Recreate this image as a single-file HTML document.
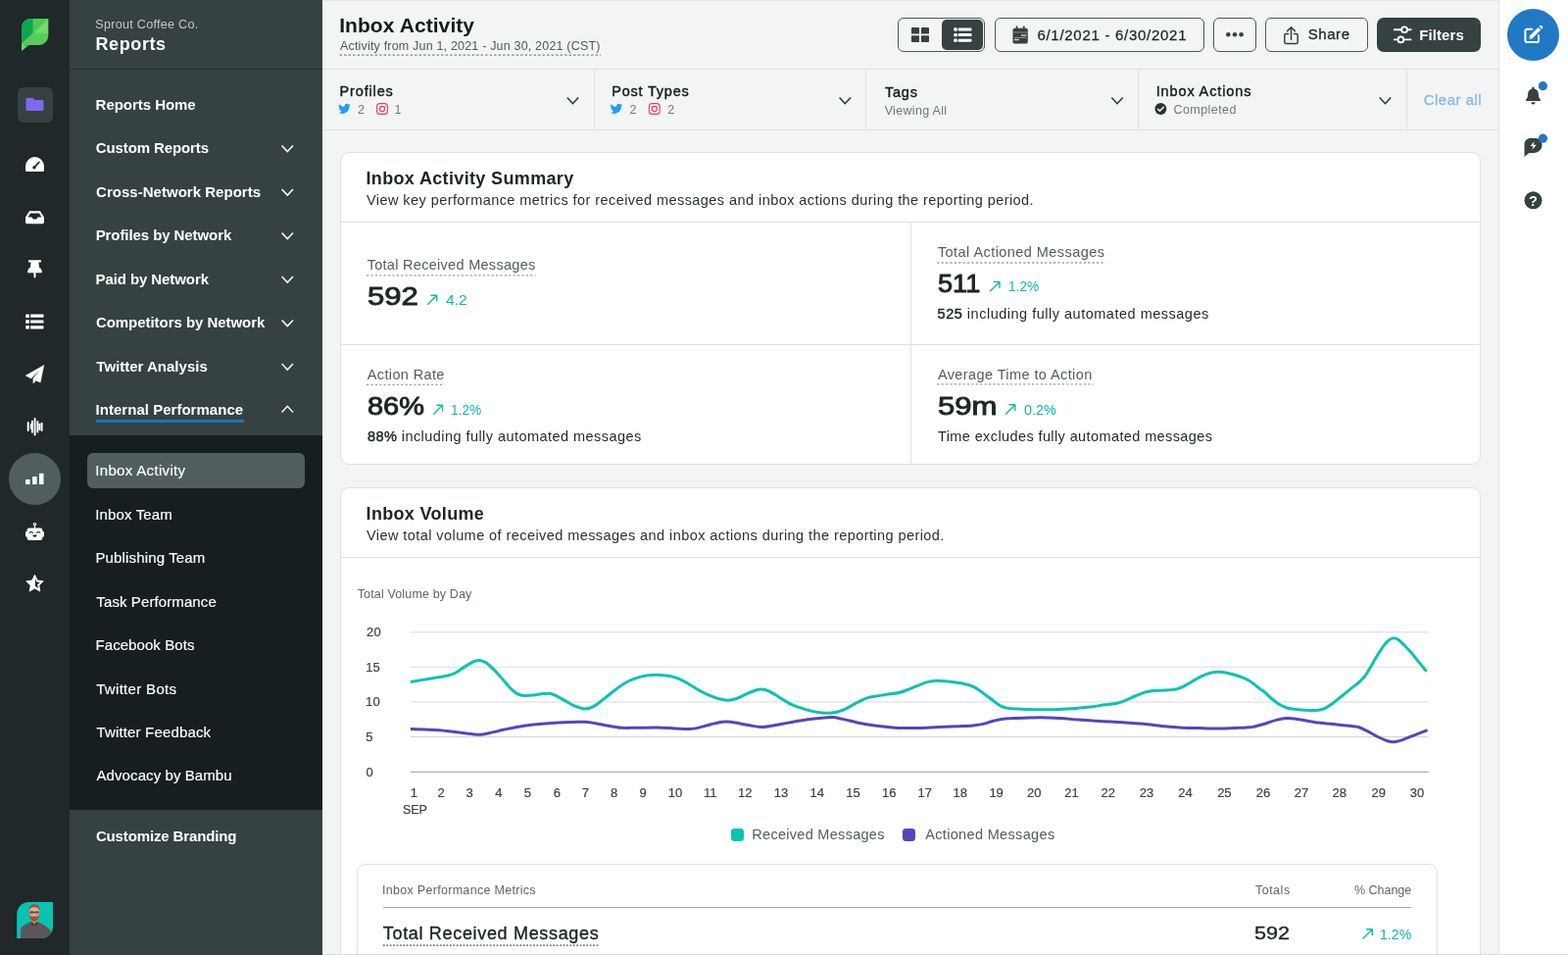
<!DOCTYPE html>
<html lang="en"><head><meta charset="utf-8"><title>Inbox Activity - Reports</title>
<style>
*{box-sizing:border-box;margin:0;padding:0}
html,body{width:1600px;height:974px;overflow:hidden;background:#f3f4f4;font-family:"Liberation Sans", sans-serif;}
.abs{position:absolute}
a.t{text-decoration:none}
svg{pointer-events:none}
.t{position:absolute;white-space:pre;line-height:1;font-family:"Liberation Sans", sans-serif}
#app{position:relative;width:1600px;height:974px;overflow:hidden;background:#f3f4f4}
.rail{left:0;top:0;width:71px;height:974px;background:#20282a}
.nav{left:71px;top:0;width:258px;height:974px;background:#364141}
.navline{left:71px;top:69.6px;width:258px;height:1.4px;background:#273031}
.subnav{left:71px;top:444.4px;width:258px;height:381.6px;background:#161e20}
.pill{left:89px;top:462.1px;width:222.3px;height:35.7px;border-radius:6px;background:#515e5f}
.uline{left:97.7px;top:428.1px;width:151.2px;height:2.8px;background:#1b76be}
.tile{left:17.5px;top:88.8px;width:36px;height:36px;border-radius:6px;background:#364141}
.circ{left:8.7px;top:461.6px;width:53.8px;height:53.8px;border-radius:50%;background:#515e5f}
.hline{background:#dee1e1;height:1.3px}
.vline{background:#dee1e1;width:1.3px}
.card{background:#fff;border:1.3px solid #dee1e1;border-radius:9px}
.btn{border:1.5px solid #4c5859;border-radius:6px;background:#f3f4f4}
.rrail{left:1528.8px;top:0;width:71.2px;height:974px;background:#fff;border-left:1.2px solid #e3e5e5}
</style></head>
<body><div id="app">
<aside aria-label="Primary navigation">
<div class="abs rail"></div>
<div class="abs tile"></div>
<div class="abs circ"></div>
</aside>
<nav aria-label="Reports">
<div class="abs nav"></div>
<div class="abs navline"></div>
<div class="abs subnav"></div>
<div class="abs pill"></div>
<div class="abs uline"></div>
<span class="t" style="left:97.23px;top:19px;font-size:12.6px;font-weight:400;color:#c3c8c8;letter-spacing:0.277px;">Sprout Coffee Co.</span>
<h2 class="t" style="left:97.50px;top:36px;font-size:18px;font-weight:700;color:#ffffff;letter-spacing:0.594px;">Reports</h2>
<a class="t" style="left:97.61px;top:99px;font-size:15px;font-weight:700;color:#ffffff;letter-spacing:-0.039px;">Reports Home</a>
<a class="t" style="left:97.85px;top:143px;font-size:15px;font-weight:700;color:#ffffff;letter-spacing:-0.114px;">Custom Reports</a>
<a class="t" style="left:98.11px;top:188px;font-size:15px;font-weight:700;color:#ffffff;letter-spacing:0.02px;">Cross-Network Reports</a>
<a class="t" style="left:97.66px;top:232px;font-size:15px;font-weight:700;color:#ffffff;letter-spacing:-0.077px;">Profiles by Network</a>
<a class="t" style="left:97.51px;top:277px;font-size:15px;font-weight:700;color:#ffffff;letter-spacing:-0.084px;">Paid by Network</a>
<a class="t" style="left:97.92px;top:321px;font-size:15px;font-weight:700;color:#ffffff;letter-spacing:-0.042px;">Competitors by Network</a>
<a class="t" style="left:98.37px;top:366px;font-size:15px;font-weight:700;color:#ffffff;letter-spacing:0.001px;">Twitter Analysis</a>
<a class="t" style="left:97.56px;top:410px;font-size:15px;font-weight:700;color:#ffffff;letter-spacing:0.027px;">Internal Performance</a>
<a class="t" style="left:97.29px;top:472px;font-size:15px;font-weight:400;color:#ffffff;letter-spacing:0.324px;-webkit-text-stroke:0.15px #ffffff;">Inbox Activity</a>
<a class="t" style="left:97.23px;top:517px;font-size:15px;font-weight:400;color:#ffffff;letter-spacing:0.15px;-webkit-text-stroke:0.15px #ffffff;">Inbox Team</a>
<a class="t" style="left:97.46px;top:561px;font-size:15px;font-weight:400;color:#ffffff;letter-spacing:0.148px;-webkit-text-stroke:0.15px #ffffff;">Publishing Team</a>
<a class="t" style="left:98.36px;top:606px;font-size:15px;font-weight:400;color:#ffffff;letter-spacing:0.101px;-webkit-text-stroke:0.15px #ffffff;">Task Performance</a>
<a class="t" style="left:97.47px;top:650px;font-size:15px;font-weight:400;color:#ffffff;letter-spacing:0.076px;-webkit-text-stroke:0.15px #ffffff;">Facebook Bots</a>
<a class="t" style="left:98.17px;top:695px;font-size:15px;font-weight:400;color:#ffffff;letter-spacing:0.323px;-webkit-text-stroke:0.15px #ffffff;">Twitter Bots</a>
<a class="t" style="left:98.38px;top:739px;font-size:15px;font-weight:400;color:#ffffff;letter-spacing:0.168px;-webkit-text-stroke:0.15px #ffffff;">Twitter Feedback</a>
<a class="t" style="left:98.52px;top:783px;font-size:15px;font-weight:400;color:#ffffff;letter-spacing:0.087px;-webkit-text-stroke:0.15px #ffffff;">Advocacy by Bambu</a>
<a class="t" style="left:97.90px;top:845px;font-size:15px;font-weight:700;color:#ffffff;letter-spacing:-0.135px;">Customize Branding</a>
</nav>
<header>
<div class="abs hline" style="left:329px;top:0;width:1200px;height:1px;background:#e4e6e6"></div>
<div class="abs hline" style="left:329px;top:69.7px;width:1200.5px"></div>
<div class="abs btn" style="left:915.9px;top:18px;width:89.3px;height:34.8px"></div>
<div class="abs" style="left:961.2px;top:20.2px;width:42.3px;height:30.8px;border-radius:5px;background:#364141"></div>
<div class="abs btn" style="left:1014.7px;top:18px;width:214px;height:34.8px"></div>
<div class="abs btn" style="left:1237.8px;top:18px;width:44.4px;height:34.8px"></div>
<div class="abs btn" style="left:1291.2px;top:18px;width:104.5px;height:34.8px"></div>
<div class="abs" style="left:1404.8px;top:18px;width:106.2px;height:34.8px;border-radius:7px;background:#364141"></div>
<h1 class="t" style="left:346.14px;top:15px;font-size:21px;font-weight:700;color:#121b1c;letter-spacing:0.077px;">Inbox Activity</h1>
<span class="t" style="left:346.98px;top:41px;font-size:12.5px;font-weight:400;color:#4f5b5c;letter-spacing:0.186px;">Activity from Jun 1, 2021 - Jun 30, 2021 (CST)</span>
<span class="t" style="left:1058.42px;top:28px;font-size:15px;font-weight:400;color:#1b2526;letter-spacing:0.719px;-webkit-text-stroke:0.25px #1b2526;">6/1/2021 - 6/30/2021</span>
<span class="t" style="left:1334.79px;top:27px;font-size:15px;font-weight:400;color:#1b2526;letter-spacing:0.545px;-webkit-text-stroke:0.3px #1b2526;">Share</span>
<span class="t" style="left:1448.32px;top:28px;font-size:15px;font-weight:700;color:#ffffff;letter-spacing:0.075px;">Filters</span>
</header>
<section aria-label="Filters">
<div class="abs hline" style="left:329px;top:132.1px;width:1200.5px"></div>
<div class="abs vline" style="left:605.6px;top:71px;height:61px"></div>
<div class="abs vline" style="left:883.2px;top:71px;height:61px"></div>
<div class="abs vline" style="left:1160.8px;top:71px;height:61px"></div>
<div class="abs vline" style="left:1434.6px;top:71px;height:61px"></div>
<span class="t" style="left:346.57px;top:86px;font-size:14.5px;font-weight:400;color:#111a1b;letter-spacing:0.848px;-webkit-text-stroke:0.38px #111a1b;">Profiles</span>
<span class="t" style="left:364.92px;top:106px;font-size:12.5px;font-weight:400;color:#6e797a;letter-spacing:0.0px;">2</span>
<span class="t" style="left:402.58px;top:106px;font-size:12.5px;font-weight:400;color:#6e797a;letter-spacing:0.0px;">1</span>
<span class="t" style="left:624.29px;top:86px;font-size:14.5px;font-weight:400;color:#111a1b;letter-spacing:0.778px;-webkit-text-stroke:0.38px #111a1b;">Post Types</span>
<span class="t" style="left:642.42px;top:106px;font-size:12.5px;font-weight:400;color:#6e797a;letter-spacing:0.0px;">2</span>
<span class="t" style="left:681.27px;top:106px;font-size:12.5px;font-weight:400;color:#6e797a;letter-spacing:0.0px;">2</span>
<span class="t" style="left:902.97px;top:87px;font-size:14.5px;font-weight:400;color:#111a1b;letter-spacing:0.772px;-webkit-text-stroke:0.38px #111a1b;">Tags</span>
<span class="t" style="left:902.63px;top:107px;font-size:12.5px;font-weight:400;color:#6e797a;letter-spacing:0.326px;">Viewing All</span>
<span class="t" style="left:1179.67px;top:86px;font-size:14.5px;font-weight:400;color:#111a1b;letter-spacing:0.877px;-webkit-text-stroke:0.38px #111a1b;">Inbox Actions</span>
<span class="t" style="left:1197.41px;top:106px;font-size:12.5px;font-weight:400;color:#6e797a;letter-spacing:0.446px;">Completed</span>
<span class="t" style="left:1452.70px;top:94px;font-size:15px;font-weight:400;color:#8ab8dc;letter-spacing:0.5px;-webkit-text-stroke:0.3px #8ab8dc;">Clear all</span>
</section>
<main>
<section aria-label="Inbox Activity Summary">
<div class="abs card" style="left:347px;top:155.2px;width:1163.8px;height:319.2px"></div>
<div class="abs hline" style="left:348px;top:225.6px;width:1162px"></div>
<div class="abs hline" style="left:348px;top:350.5px;width:1162px"></div>
<div class="abs vline" style="left:928.9px;top:226px;height:247.5px"></div>
<h2 class="t" style="left:373.45px;top:173px;font-size:18px;font-weight:700;color:#1b2526;letter-spacing:0.353px;">Inbox Activity Summary</h2>
<p class="t" style="left:373.93px;top:197px;font-size:14.5px;font-weight:400;color:#273333;letter-spacing:0.436px;">View key performance metrics for received messages and inbox actions during the reporting period.</p>
<span class="t" style="left:374.67px;top:263px;font-size:14.5px;font-weight:400;color:#515e5f;letter-spacing:0.29px;">Total Received Messages</span>
<span class="t" style="left:375.17px;top:289px;font-size:26px;font-weight:400;color:#1b2526;letter-spacing:0.0px;-webkit-text-stroke:0.9px #1b2526;transform:scaleX(1.1959);transform-origin:0 0;">592</span>
<span class="t" style="left:454.73px;top:299px;font-size:14.5px;font-weight:400;color:#0db9a7;letter-spacing:0.0px;transform:scaleX(1.0748);transform-origin:0 0;">4.2</span>
<span class="t" style="left:374.74px;top:375px;font-size:14.5px;font-weight:400;color:#515e5f;letter-spacing:0.372px;">Action Rate</span>
<span class="t" style="left:375.46px;top:401px;font-size:26px;font-weight:400;color:#1b2526;letter-spacing:0.0px;-webkit-text-stroke:0.9px #1b2526;transform:scaleX(1.1145);transform-origin:0 0;">86%</span>
<span class="t" style="left:459.63px;top:411px;font-size:14.5px;font-weight:400;color:#0db9a7;letter-spacing:0.0px;transform:scaleX(0.9475);transform-origin:0 0;">1.2%</span>
<span class="t" style="left:956.92px;top:250px;font-size:14.5px;font-weight:400;color:#515e5f;letter-spacing:0.439px;">Total Actioned Messages</span>
<span class="t" style="left:957.38px;top:276px;font-size:26px;font-weight:400;color:#1b2526;letter-spacing:0.0px;-webkit-text-stroke:0.9px #1b2526;transform:scaleX(1.0456);transform-origin:0 0;">511</span>
<span class="t" style="left:1028.54px;top:285px;font-size:14.5px;font-weight:400;color:#0db9a7;letter-spacing:0.0px;transform:scaleX(0.9411);transform-origin:0 0;">1.2%</span>
<span class="t" style="left:956.88px;top:375px;font-size:14.5px;font-weight:400;color:#515e5f;letter-spacing:0.407px;">Average Time to Action</span>
<span class="t" style="left:957.17px;top:401px;font-size:26px;font-weight:400;color:#1b2526;letter-spacing:0.0px;-webkit-text-stroke:0.9px #1b2526;transform:scaleX(1.1964);transform-origin:0 0;">59m</span>
<span class="t" style="left:1044.59px;top:411px;font-size:14.5px;font-weight:400;color:#0db9a7;letter-spacing:0.0px;transform:scaleX(0.9948);transform-origin:0 0;">0.2%</span>
<span class="t" style="left:374.92px;top:438px;font-size:14.5px;font-weight:400;color:#1f292a;letter-spacing:0.446px;"><b style="font-weight:400;-webkit-text-stroke:0.45px #1f292a">88%</b> including fully automated messages</span>
<span class="t" style="left:956.60px;top:313px;font-size:14.5px;font-weight:400;color:#1f292a;letter-spacing:0.506px;"><b style="font-weight:400;-webkit-text-stroke:0.45px #1f292a">525</b> including fully automated messages</span>
<span class="t" style="left:956.97px;top:438px;font-size:14.5px;font-weight:400;color:#1f292a;letter-spacing:0.395px;">Time excludes fully automated messages</span>
</section>
<section aria-label="Inbox Volume">
<div class="abs card" style="left:347px;top:497.4px;width:1163.8px;height:500px"></div>
<div class="abs hline" style="left:348px;top:567.5px;width:1162px"></div>
<div class="abs card" style="left:364.3px;top:880.6px;width:1102.3px;height:120px"></div>
<div class="abs hline" style="left:391px;top:925px;width:1048.6px;background:#a4abab;height:1.3px"></div>
<div class="abs" style="left:746px;top:844.7px;width:13px;height:13.2px;border-radius:3.4px;background:#0cc3b1"></div>
<div class="abs" style="left:921.3px;top:844.7px;width:13px;height:13.2px;border-radius:3.4px;background:#5a44ba"></div>
<svg class="abs" style="left:0;top:0" width="1600" height="974" viewBox="0 0 1600 974">
<rect x="418.8" y="644.1" width="1039.0" height="1.2" fill="#dfe2e2"/><rect x="418.8" y="679.7" width="1039.0" height="1.2" fill="#dfe2e2"/><rect x="418.8" y="715.3" width="1039.0" height="1.2" fill="#dfe2e2"/><rect x="418.8" y="750.9" width="1039.0" height="1.2" fill="#d2d6d6"/><rect x="418.8" y="786.7" width="1039.0" height="1.2" fill="#a4abab"/>
<path d="M418.9,743.5C418.9,743.5 431.1,743.8 437.2,744.2C443.4,744.5 449.9,744.8 455.7,745.4C460.9,745.9 465.6,746.6 470.4,747.2C475.0,747.8 480.3,748.6 484.0,748.9C486.5,749.2 488.0,749.4 490.2,749.2C492.8,749.1 495.6,748.4 498.8,747.8C503.1,746.9 508.9,745.4 513.6,744.3C517.9,743.4 521.4,742.5 525.9,741.7C531.4,740.7 538.2,739.7 544.4,739.0C550.5,738.3 556.7,737.8 562.8,737.4C569.0,737.0 576.3,736.7 581.3,736.5C584.7,736.4 587.2,736.3 590.0,736.3C592.6,736.3 594.8,736.1 597.4,736.2C600.2,736.4 602.8,736.8 606.0,737.4C610.3,738.1 616.0,739.5 620.8,740.3C625.4,741.1 629.8,742.0 634.4,742.3C639.2,742.6 643.8,742.3 649.1,742.3C655.5,742.3 663.3,741.9 670.1,742.0C676.5,742.1 682.8,742.6 688.6,742.9C693.8,743.1 698.9,743.7 703.3,743.5C706.9,743.3 709.7,742.9 713.2,742.1C717.1,741.3 721.2,739.7 725.5,738.7C730.2,737.6 735.4,736.1 740.3,736.0C745.2,735.9 750.7,737.2 755.1,737.9C758.7,738.5 761.6,739.2 765.0,739.8C768.6,740.4 772.4,741.4 776.1,741.5C779.8,741.6 783.1,740.9 787.2,740.3C792.3,739.6 798.5,738.2 804.4,737.1C810.7,736.0 817.7,734.6 824.1,733.7C830.0,732.9 836.6,732.2 841.4,731.9C844.8,731.6 847.1,731.4 850.0,731.6C852.9,731.8 855.2,732.4 858.6,733.1C863.4,734.0 870.0,736.0 875.9,737.2C881.9,738.4 888.2,739.5 894.4,740.3C900.5,741.1 907.3,741.8 912.8,742.2C917.3,742.5 920.9,742.5 925.2,742.6C929.9,742.6 934.8,742.6 940.0,742.4C945.8,742.3 952.3,741.9 958.5,741.6C964.7,741.3 971.1,741.1 977.0,740.8C982.5,740.5 988.2,740.4 993.0,739.9C997.1,739.4 1000.5,738.9 1004.1,738.1C1007.5,737.3 1010.6,736.0 1013.9,735.2C1017.2,734.4 1020.2,733.6 1023.8,733.2C1028.2,732.6 1033.0,732.6 1038.6,732.4C1045.8,732.2 1055.6,731.8 1063.2,731.8C1069.8,731.9 1075.5,732.3 1081.7,732.6C1087.9,733.0 1094.4,733.6 1100.2,734.0C1105.4,734.4 1109.8,734.7 1115.0,735.1C1120.8,735.4 1127.3,735.6 1133.5,736.0C1139.7,736.3 1145.8,736.8 1152.0,737.3C1158.1,737.7 1164.3,738.1 1170.4,738.7C1176.6,739.3 1183.1,740.2 1188.9,740.7C1194.1,741.2 1198.4,741.6 1203.7,741.9C1209.8,742.3 1217.0,742.4 1223.4,742.6C1229.4,742.8 1234.7,743.1 1240.7,743.1C1247.1,743.1 1254.1,742.8 1260.4,742.5C1266.3,742.2 1272.5,742.1 1277.6,741.4C1281.7,740.7 1284.9,739.7 1288.8,738.7C1293.1,737.5 1298.0,735.4 1302.3,734.4C1306.1,733.4 1309.5,732.6 1313.4,732.5C1317.7,732.4 1322.1,733.3 1327.0,734.0C1332.7,734.8 1339.2,736.3 1345.4,737.1C1351.5,738.0 1358.1,738.3 1363.9,738.9C1369.1,739.4 1374.6,739.9 1378.7,740.4C1381.6,740.8 1383.6,740.8 1386.1,741.5C1388.9,742.4 1391.6,743.9 1394.7,745.4C1398.5,747.2 1403.2,750.2 1407.0,752.0C1410.1,753.5 1413.1,754.9 1415.7,755.7C1417.7,756.3 1419.3,756.8 1421.2,756.8C1423.3,756.8 1425.4,756.3 1428.0,755.6C1431.5,754.7 1435.9,752.6 1440.3,750.9C1445.4,749.0 1456.6,744.6 1456.6,744.6" fill="none" stroke="#5a44ba" stroke-width="3" stroke-linejoin="round"/>
<path d="M418.9,695.4C418.9,695.4 431.1,693.4 437.2,692.4C443.4,691.4 450.7,690.6 455.7,689.3C459.1,688.5 461.4,687.9 464.3,686.5C467.6,684.9 470.8,682.1 474.1,680.1C477.4,678.1 481.1,675.5 484.0,674.5C486.0,673.7 487.7,673.4 489.5,673.5C491.4,673.7 493.1,674.3 495.1,675.4C497.8,677.0 500.8,679.9 503.7,682.7C507.0,685.9 510.3,690.0 513.6,693.6C516.9,697.2 520.6,702.0 523.4,704.4C525.2,706.0 526.4,707.0 528.3,707.8C530.3,708.7 532.6,709.2 535.1,709.4C537.9,709.6 541.3,709.2 544.4,708.9C547.6,708.6 551.2,707.8 554.2,707.6C556.7,707.4 558.9,707.0 561.0,707.3C563.0,707.6 564.5,708.3 566.5,709.1C569.1,710.3 572.2,712.3 575.2,713.9C578.4,715.7 582.2,718.1 585.0,719.4C586.9,720.3 588.1,720.7 590.0,721.3C592.2,721.9 594.9,723.1 597.4,723.0C600.2,722.9 603.1,721.8 606.0,720.3C609.6,718.5 613.3,715.0 617.1,712.1C621.1,709.0 625.2,705.3 629.4,702.4C633.4,699.5 637.5,696.6 641.7,694.5C645.7,692.6 650.2,691.1 654.1,690.1C657.5,689.2 660.6,688.9 663.9,688.6C667.2,688.3 670.5,688.3 673.8,688.4C677.1,688.6 680.4,688.8 683.6,689.5C686.9,690.2 690.3,691.2 693.5,692.6C696.8,694.0 700.0,696.1 703.3,698.0C706.6,699.9 709.9,702.1 713.2,704.0C716.4,705.8 719.7,707.5 723.0,708.9C726.3,710.3 729.6,711.6 732.9,712.5C736.2,713.4 739.6,714.2 742.8,714.2C745.8,714.1 748.4,713.4 751.4,712.5C755.1,711.3 759.5,708.7 763.1,707.2C766.0,706.0 768.7,704.6 771.2,704.0C773.3,703.4 775.2,702.9 777.3,703.1C779.7,703.2 782.1,703.9 784.7,705.0C787.8,706.3 791.3,708.8 794.6,710.8C797.9,712.8 801.1,715.1 804.4,716.8C807.6,718.5 810.8,719.9 814.3,721.2C818.1,722.6 822.7,723.9 826.6,724.9C830.1,725.7 833.2,726.4 836.5,726.8C839.8,727.2 843.1,727.5 846.3,727.3C849.3,727.2 852.1,726.8 854.9,726.0C857.8,725.2 860.7,724.0 863.6,722.6C866.8,721.1 870.1,718.8 873.4,717.1C876.7,715.4 880.1,713.5 883.3,712.3C886.2,711.3 888.8,710.9 891.9,710.3C895.6,709.5 899.9,709.1 904.2,708.4C908.9,707.7 914.8,707.2 919.0,706.0C922.3,705.2 924.6,704.0 927.6,702.8C931.1,701.4 935.2,699.6 938.8,698.3C941.8,697.1 944.6,696.0 947.4,695.4C949.9,694.8 952.2,694.5 954.8,694.3C957.8,694.2 961.1,694.4 964.6,694.7C968.5,695.0 973.1,695.5 977.0,696.2C980.5,696.7 983.8,697.4 986.8,698.2C989.5,699.0 991.6,699.6 994.2,700.9C997.4,702.5 1000.8,705.2 1004.1,707.6C1007.4,709.9 1010.8,712.8 1013.9,715.0C1016.5,716.9 1018.9,718.9 1021.3,720.1C1023.4,721.1 1025.1,721.6 1027.5,722.1C1030.6,722.8 1034.4,722.9 1038.6,723.1C1044.0,723.5 1050.9,723.7 1057.0,723.7C1063.2,723.8 1069.3,723.9 1075.5,723.7C1081.7,723.5 1088.5,723.1 1094.0,722.7C1098.5,722.4 1102.6,722.0 1106.3,721.6C1109.5,721.3 1111.9,721.1 1115.0,720.7C1118.8,720.2 1123.2,719.4 1127.3,718.8C1131.4,718.3 1135.9,718.0 1139.6,717.2C1142.8,716.5 1145.3,715.5 1148.3,714.4C1151.5,713.2 1154.8,711.4 1158.1,710.0C1161.4,708.7 1164.8,707.0 1168.0,706.1C1170.9,705.3 1173.5,704.9 1176.6,704.5C1180.3,704.1 1184.8,704.3 1188.9,704.0C1193.0,703.7 1197.7,703.4 1201.2,702.6C1204.0,701.8 1205.9,700.9 1208.6,699.6C1212.0,698.0 1216.0,695.1 1219.7,693.1C1223.4,691.1 1227.0,689.0 1230.8,687.7C1234.4,686.4 1238.2,685.5 1241.9,685.3C1245.6,685.1 1249.2,685.7 1253.0,686.4C1257.0,687.2 1261.5,688.6 1265.3,690.0C1268.8,691.3 1272.0,692.6 1275.2,694.5C1278.6,696.6 1282.3,700.1 1285.0,702.1C1286.9,703.5 1288.2,704.1 1290.0,705.5C1292.3,707.4 1294.9,710.4 1297.4,712.5C1299.8,714.5 1302.2,716.4 1304.8,718.0C1307.5,719.6 1310.3,721.1 1313.4,722.0C1316.8,723.0 1320.7,723.3 1324.5,723.7C1328.5,724.1 1333.1,724.4 1336.8,724.4C1339.9,724.5 1342.8,724.5 1345.4,724.2C1347.7,723.8 1349.5,723.5 1351.6,722.6C1354.0,721.5 1356.4,719.9 1359.0,718.1C1362.1,715.9 1365.5,712.8 1368.8,710.2C1372.1,707.6 1375.5,704.8 1378.7,702.2C1381.7,699.8 1384.9,697.5 1387.3,695.3C1389.3,693.5 1390.7,692.3 1392.3,690.2C1394.4,687.6 1396.3,684.1 1398.4,680.6C1400.8,676.7 1403.3,671.9 1405.8,667.9C1408.2,664.0 1410.8,659.7 1413.2,656.9C1414.9,654.9 1416.4,653.4 1418.1,652.3C1419.5,651.5 1421.0,650.8 1422.4,650.8C1423.8,650.8 1425.2,651.5 1426.7,652.4C1428.7,653.6 1430.8,655.9 1432.9,658.0C1435.3,660.4 1437.9,663.2 1440.3,666.0C1442.8,668.9 1445.2,672.0 1447.7,675.1C1450.3,678.2 1455.6,684.7 1455.6,684.7" fill="none" stroke="#0cc3b1" stroke-width="3" stroke-linejoin="round"/>
</svg>
<h2 class="t" style="left:373.59px;top:515px;font-size:18px;font-weight:700;color:#1b2526;letter-spacing:0.325px;">Inbox Volume</h2>
<p class="t" style="left:373.99px;top:539px;font-size:14.5px;font-weight:400;color:#273333;letter-spacing:0.427px;">View total volume of received messages and inbox actions during the reporting period.</p>
<span class="t" style="left:364.71px;top:600px;font-size:12.5px;font-weight:400;color:#5c6869;letter-spacing:0.147px;">Total Volume by Day</span>
<span class="t" style="left:374.06px;top:638px;font-size:13px;font-weight:400;color:#3a4546;letter-spacing:0.2px;-webkit-text-stroke:0.2px #3a4546;">20</span>
<span class="t" style="left:373.20px;top:674px;font-size:13px;font-weight:400;color:#3a4546;letter-spacing:0.2px;-webkit-text-stroke:0.2px #3a4546;">15</span>
<span class="t" style="left:373.10px;top:709px;font-size:13px;font-weight:400;color:#3a4546;letter-spacing:0.2px;-webkit-text-stroke:0.2px #3a4546;">10</span>
<span class="t" style="left:373.20px;top:745px;font-size:13px;font-weight:400;color:#3a4546;letter-spacing:0.2px;-webkit-text-stroke:0.2px #3a4546;">5</span>
<span class="t" style="left:373.59px;top:781px;font-size:13px;font-weight:400;color:#3a4546;letter-spacing:0.2px;-webkit-text-stroke:0.2px #3a4546;">0</span>
<span class="t" style="left:418.81px;top:802px;font-size:13px;font-weight:400;color:#3a4546;letter-spacing:0.0px;-webkit-text-stroke:0.2px #3a4546;">1</span>
<span class="t" style="left:446.38px;top:802px;font-size:13px;font-weight:400;color:#3a4546;letter-spacing:0.0px;-webkit-text-stroke:0.2px #3a4546;">2</span>
<span class="t" style="left:475.53px;top:802px;font-size:13px;font-weight:400;color:#3a4546;letter-spacing:0.0px;-webkit-text-stroke:0.2px #3a4546;">3</span>
<span class="t" style="left:505.33px;top:802px;font-size:13px;font-weight:400;color:#3a4546;letter-spacing:0.0px;-webkit-text-stroke:0.2px #3a4546;">4</span>
<span class="t" style="left:534.80px;top:802px;font-size:13px;font-weight:400;color:#3a4546;letter-spacing:0.0px;-webkit-text-stroke:0.2px #3a4546;">5</span>
<span class="t" style="left:564.87px;top:802px;font-size:13px;font-weight:400;color:#3a4546;letter-spacing:0.0px;-webkit-text-stroke:0.2px #3a4546;">6</span>
<span class="t" style="left:593.68px;top:802px;font-size:13px;font-weight:400;color:#3a4546;letter-spacing:0.0px;-webkit-text-stroke:0.2px #3a4546;">7</span>
<span class="t" style="left:622.99px;top:802px;font-size:13px;font-weight:400;color:#3a4546;letter-spacing:0.0px;-webkit-text-stroke:0.2px #3a4546;">8</span>
<span class="t" style="left:652.58px;top:802px;font-size:13px;font-weight:400;color:#3a4546;letter-spacing:0.0px;-webkit-text-stroke:0.2px #3a4546;">9</span>
<span class="t" style="left:681.74px;top:802px;font-size:13px;font-weight:400;color:#3a4546;letter-spacing:0.0px;-webkit-text-stroke:0.2px #3a4546;">10</span>
<span class="t" style="left:717.89px;top:802px;font-size:13px;font-weight:400;color:#3a4546;letter-spacing:0.0px;-webkit-text-stroke:0.2px #3a4546;">11</span>
<span class="t" style="left:753.00px;top:802px;font-size:13px;font-weight:400;color:#3a4546;letter-spacing:0.0px;-webkit-text-stroke:0.2px #3a4546;">12</span>
<span class="t" style="left:789.78px;top:802px;font-size:13px;font-weight:400;color:#3a4546;letter-spacing:0.0px;-webkit-text-stroke:0.2px #3a4546;">13</span>
<span class="t" style="left:826.50px;top:802px;font-size:13px;font-weight:400;color:#3a4546;letter-spacing:0.0px;-webkit-text-stroke:0.2px #3a4546;">14</span>
<span class="t" style="left:863.28px;top:802px;font-size:13px;font-weight:400;color:#3a4546;letter-spacing:0.0px;-webkit-text-stroke:0.2px #3a4546;">15</span>
<span class="t" style="left:900.00px;top:802px;font-size:13px;font-weight:400;color:#3a4546;letter-spacing:0.0px;-webkit-text-stroke:0.2px #3a4546;">16</span>
<span class="t" style="left:936.60px;top:802px;font-size:13px;font-weight:400;color:#3a4546;letter-spacing:0.0px;-webkit-text-stroke:0.2px #3a4546;">17</span>
<span class="t" style="left:972.47px;top:802px;font-size:13px;font-weight:400;color:#3a4546;letter-spacing:0.0px;-webkit-text-stroke:0.2px #3a4546;">18</span>
<span class="t" style="left:1009.40px;top:802px;font-size:13px;font-weight:400;color:#3a4546;letter-spacing:0.0px;-webkit-text-stroke:0.2px #3a4546;">19</span>
<span class="t" style="left:1048.00px;top:802px;font-size:13px;font-weight:400;color:#3a4546;letter-spacing:0.0px;-webkit-text-stroke:0.2px #3a4546;">20</span>
<span class="t" style="left:1086.25px;top:802px;font-size:13px;font-weight:400;color:#3a4546;letter-spacing:0.0px;-webkit-text-stroke:0.2px #3a4546;">21</span>
<span class="t" style="left:1123.56px;top:802px;font-size:13px;font-weight:400;color:#3a4546;letter-spacing:0.0px;-webkit-text-stroke:0.2px #3a4546;">22</span>
<span class="t" style="left:1162.85px;top:802px;font-size:13px;font-weight:400;color:#3a4546;letter-spacing:0.0px;-webkit-text-stroke:0.2px #3a4546;">23</span>
<span class="t" style="left:1202.36px;top:802px;font-size:13px;font-weight:400;color:#3a4546;letter-spacing:0.0px;-webkit-text-stroke:0.2px #3a4546;">24</span>
<span class="t" style="left:1242.15px;top:802px;font-size:13px;font-weight:400;color:#3a4546;letter-spacing:0.0px;-webkit-text-stroke:0.2px #3a4546;">25</span>
<span class="t" style="left:1281.76px;top:802px;font-size:13px;font-weight:400;color:#3a4546;letter-spacing:0.0px;-webkit-text-stroke:0.2px #3a4546;">26</span>
<span class="t" style="left:1320.66px;top:802px;font-size:13px;font-weight:400;color:#3a4546;letter-spacing:0.0px;-webkit-text-stroke:0.2px #3a4546;">27</span>
<span class="t" style="left:1359.54px;top:802px;font-size:13px;font-weight:400;color:#3a4546;letter-spacing:0.0px;-webkit-text-stroke:0.2px #3a4546;">28</span>
<span class="t" style="left:1399.56px;top:802px;font-size:13px;font-weight:400;color:#3a4546;letter-spacing:0.0px;-webkit-text-stroke:0.2px #3a4546;">29</span>
<span class="t" style="left:1438.76px;top:802px;font-size:13px;font-weight:400;color:#3a4546;letter-spacing:0.0px;-webkit-text-stroke:0.2px #3a4546;">30</span>
<span class="t" style="left:411.00px;top:820px;font-size:12.5px;font-weight:400;color:#3a4546;letter-spacing:-0.067px;-webkit-text-stroke:0.2px #3a4546;">SEP</span>
<span class="t" style="left:767.32px;top:844px;font-size:14.5px;font-weight:400;color:#515e5f;letter-spacing:0.287px;">Received Messages</span>
<span class="t" style="left:944.16px;top:844px;font-size:14.5px;font-weight:400;color:#515e5f;letter-spacing:0.34px;">Actioned Messages</span>
<span class="t" style="left:389.99px;top:902px;font-size:12.5px;font-weight:400;color:#5c6869;letter-spacing:0.299px;">Inbox Performance Metrics</span>
<span class="t" style="left:1280.90px;top:902px;font-size:12.5px;font-weight:400;color:#5c6869;letter-spacing:0.518px;">Totals</span>
<span class="t" style="left:1381.95px;top:902px;font-size:12.5px;font-weight:400;color:#5c6869;letter-spacing:-0.016px;">% Change</span>
<span class="t" style="left:390.80px;top:943px;font-size:18px;font-weight:400;color:#1b2526;letter-spacing:0.674px;-webkit-text-stroke:0.35px #1b2526;">Total Received Messages</span>
<span class="t" style="left:1280.20px;top:943px;font-size:18px;font-weight:400;color:#1b2526;letter-spacing:0.0px;-webkit-text-stroke:0.35px #1b2526;transform:scaleX(1.2);transform-origin:0 0;">592</span>
<span class="t" style="left:1408.00px;top:945px;font-size:15.5px;font-weight:400;color:#0db9a7;letter-spacing:0.0px;transform:scaleX(0.911);transform-origin:0 0;">1.2%</span>
</section>
</main>
<aside aria-label="Utilities">
<div class="abs rrail"></div>
<div class="abs" style="left:1537.8px;top:8.7px;width:53.4px;height:53.4px;border-radius:50%;background:#2079c3"></div>
</aside>
<div class="abs hline" style="left:329px;top:973px;width:1271px;height:1px;background:#d9dcdc"></div>
<svg class="abs" style="left:0;top:0" width="1600" height="974" viewBox="0 0 1600 974"><polyline points="287.6,148.45 293.3,154.55 299.0,148.45" fill="none" stroke="#fff" stroke-width="1.5"/><polyline points="287.6,192.95 293.3,199.05 299.0,192.95" fill="none" stroke="#fff" stroke-width="1.5"/><polyline points="287.6,237.45 293.3,243.55 299.0,237.45" fill="none" stroke="#fff" stroke-width="1.5"/><polyline points="287.6,281.95 293.3,288.05 299.0,281.95" fill="none" stroke="#fff" stroke-width="1.5"/><polyline points="287.6,326.45 293.3,332.55 299.0,326.45" fill="none" stroke="#fff" stroke-width="1.5"/><polyline points="287.6,370.95 293.3,377.05 299.0,370.95" fill="none" stroke="#fff" stroke-width="1.5"/><polyline points="287.6,420.45 293.3,414.34999999999997 299.0,420.45" fill="none" stroke="#fff" stroke-width="1.5"/><polyline points="578.8,99.55 584.5,105.64999999999999 590.2,99.55" fill="none" stroke="#273333" stroke-width="1.5"/><polyline points="856.5999999999999,99.55 862.3,105.64999999999999 868.0,99.55" fill="none" stroke="#273333" stroke-width="1.5"/><polyline points="1134.3,99.55 1140,105.64999999999999 1145.7,99.55" fill="none" stroke="#273333" stroke-width="1.5"/><polyline points="1407.8,99.55 1413.5,105.64999999999999 1419.2,99.55" fill="none" stroke="#273333" stroke-width="1.5"/><path d="M436.70,310.30 L445.70,301.30 M439.95,301.30 H445.70 V307.05" fill="none" stroke="#0fbcaa" stroke-width="1.4" stroke-linecap="round" stroke-linejoin="round"/><path d="M442.60,422.20 L451.60,413.20 M445.85,413.20 H451.60 V418.95" fill="none" stroke="#0fbcaa" stroke-width="1.4" stroke-linecap="round" stroke-linejoin="round"/><path d="M1010.60,296.80 L1020.00,287.40 M1014.00,287.40 H1020.00 V293.40" fill="none" stroke="#0fbcaa" stroke-width="1.4" stroke-linecap="round" stroke-linejoin="round"/><path d="M1026.60,422.00 L1035.80,412.80 M1029.93,412.80 H1035.80 V418.67" fill="none" stroke="#0fbcaa" stroke-width="1.4" stroke-linecap="round" stroke-linejoin="round"/><path d="M1391.00,957.10 L1400.30,947.80 M1394.37,947.80 H1400.30 V953.73" fill="none" stroke="#0fbcaa" stroke-width="1.4" stroke-linecap="round" stroke-linejoin="round"/><line x1="346.6" y1="56.2" x2="613" y2="56.2" stroke="#7d8687" stroke-width="1.3" stroke-dasharray="2.4 2.1"/><line x1="374" y1="280.9" x2="546.5" y2="280.9" stroke="#99a1a2" stroke-width="1.3" stroke-dasharray="2.2 2.2"/><line x1="374" y1="392.3" x2="453.5" y2="392.3" stroke="#99a1a2" stroke-width="1.3" stroke-dasharray="2.2 2.2"/><line x1="956.2" y1="268.0" x2="1128" y2="268.0" stroke="#99a1a2" stroke-width="1.3" stroke-dasharray="2.2 2.2"/><line x1="956.2" y1="391.9" x2="1115.5" y2="391.9" stroke="#99a1a2" stroke-width="1.3" stroke-dasharray="2.2 2.2"/><line x1="391" y1="964.2" x2="611" y2="964.2" stroke="#3c4748" stroke-width="1.2" stroke-dasharray="1.7 1.7"/></svg>
<svg class="abs" style="left:0;top:0" width="1600" height="974" viewBox="0 0 1600 974">
<defs>
<clipPath id="leafclip"><path d="M31.6,19H49.25V36.2C49.25,41.6 45.2,45.9 39.8,45.9H29.6L22.1,52V28.8C22.1,23.2 26,19 31.6,19Z"/></clipPath>
<clipPath id="avclip"><path d="M29.5,920H54V945C54,951.6 48.6,957 42,957H17.2V932.3C17.2,925.5 22.7,920 29.5,920Z"/></clipPath>
<filter id="soft" x="-10%" y="-10%" width="120%" height="120%"><feGaussianBlur stdDeviation="0.35"/></filter>
</defs>
<!-- logo -->
<g clip-path="url(#leafclip)">
<rect x="20" y="16" width="32" height="38" fill="#59cb59"/>
<polygon points="20,16 33.8,16 33.8,33.4 22,44.4 20,44.4" fill="#0ca750"/>
<polygon points="49.6,18.4 49.6,34 35,33.6" fill="#75dd66"/>
<polygon points="33.8,18 49.6,18.4 33.8,33.4" fill="#52c658"/>
<polygon points="22,44.4 28,46.3 22,52.2" fill="#6bd862"/>
<polygon points="24.6,45.4 29.8,45.9 27,48.1" fill="#1fb156"/>
</g>
<!-- folder -->
<path d="M28,99.8h5.2l2.2,2.2h7.5a1.6,1.6 0 0 1 1.6,1.6v7.9a1.6,1.6 0 0 1 -1.6,1.6h-14.9a1.6,1.6 0 0 1 -1.6,-1.6v-10.1a1.6,1.6 0 0 1 1.6,-1.6z" fill="#8069eb"/>
<!-- gauge -->
<path d="M26,169.6a9.5,9.5 0 0 1 19,0v3.9a1.6,1.6 0 0 1 -1.6,1.6h-15.8a1.6,1.6 0 0 1 -1.6,-1.6z" fill="#fff"/>
<path d="M35,170.8 L39.9,165.4" stroke="#20282a" stroke-width="1.7" stroke-linecap="round" fill="none"/>
<circle cx="35" cy="170.8" r="1.7" fill="#20282a"/>
<!-- inbox tray -->
<path d="M30,215.2h11l4,6.2v5.2a1.6,1.6 0 0 1 -1.6,1.6h-15.8a1.6,1.6 0 0 1 -1.6,-1.6v-5.2z" fill="#fff"/>
<path d="M31,217.6h9l2.4,3.8h-4l-1.1,2h-3.6l-1.1,-2h-4z" fill="#20282a"/>
<!-- pin -->
<path d="M30,265.2h11a0.9,0.9 0 0 1 0,2.4h-1.6l0.7,5.2c1.6,0.9 2.7,2.5 2.7,4.6a0.9,0.9 0 0 1 -0.9,0.9h-5.4v3.9l-1,1.8l-1,-1.8v-3.9h-5.4a0.9,0.9 0 0 1 -0.9,-0.9c0,-2.1 1.1,-3.7 2.7,-4.6l0.7,-5.2h-1.6a0.9,0.9 0 0 1 0,-2.4z" fill="#fff"/>
<!-- list -->
<g fill="#fff">
<rect x="26.2" y="320.4" width="3.7" height="3.6" rx="0.6"/><rect x="31" y="320.6" width="13.5" height="3.2" rx="0.6"/>
<rect x="26.2" y="326.2" width="3.7" height="3.6" rx="0.6"/><rect x="31" y="326.4" width="13.5" height="3.2" rx="0.6"/>
<rect x="26.2" y="332" width="3.7" height="3.6" rx="0.6"/><rect x="31" y="332.2" width="13.5" height="3.2" rx="0.6"/>
</g>
<!-- paper plane -->
<path d="M44.8,372.5L26.2,383.1L31.6,385.9L41.9,376L33.9,385.9V391L36.7,388.2L41.2,390.1Z" fill="#fff" stroke="#fff" stroke-width="0.5" stroke-linejoin="round"/>
<!-- waveform -->
<g stroke="#fff" stroke-width="1.9" stroke-linecap="round" fill="none">
<path d="M28.7,431v8"/><path d="M31.8,433v4"/><path d="M35.6,427v16.6"/><path d="M32.9,429.8v11"/><path d="M38.4,430v10.6"/><path d="M40.4,432.6v5.4"/><path d="M42.6,431.6v7.4"/>
</g>
<!-- bar chart -->
<g fill="#fff">
<rect x="26.1" y="489" width="4.5" height="5.1" rx="0.5"/><rect x="33.1" y="486" width="4.5" height="8.1" rx="0.5"/><rect x="40" y="482.8" width="4.5" height="11.3" rx="0.5"/>
</g>
<!-- robot -->
<g fill="#fff">
<rect x="27.6" y="538.4" width="15.8" height="12.6" rx="2.2"/>
<rect x="26" y="542" width="2.4" height="5.6" rx="0.8"/><rect x="42.6" y="542" width="2.4" height="5.6" rx="0.8"/>
<rect x="34.9" y="535.5" width="1.2" height="3.4"/>
<circle cx="35.5" cy="534.6" r="1.7"/>
</g>
<circle cx="35.5" cy="534.6" r="0.6" fill="#20282a"/>
<g stroke="#20282a" stroke-width="1.1" fill="none" stroke-linecap="round">
<path d="M30.2,543.4q1.6,-1.9 3.2,0"/><path d="M37.6,543.4q1.6,-1.9 3.2,0"/>
</g>
<path d="M33.3,545.6h4.4a2.2,2.2 0 0 1 -4.4,0z" fill="#20282a"/>
<!-- star half -->
<path d="M35.5,586.4l2.6,5.6l6.1,0.8l-4.5,4.2l1.1,6l-5.3,-3l-5.3,3l1.1,-6l-4.5,-4.2l6.1,-0.8z" fill="#fff" stroke="#fff" stroke-width="1" stroke-linejoin="round"/>
<path d="M35.9,590.3l1.5,3.1l3.4,0.5l-2.6,2.4l0.7,3.5l-3,-1.7z" fill="#20282a"/>
<!-- avatar -->
<g clip-path="url(#avclip)">
<rect x="16" y="919" width="40" height="40" fill="#0ac2b0"/>
<g filter="url(#soft)">
<path d="M21,958v-8.5c0.5,-4.6 4.4,-7 8.6,-8.4l5.4,-2l5.2,2c4.2,1.8 9.4,4.8 12.8,10v7z" fill="#5b575b"/>
<path d="M31.8,939l3.3,3.6l3.6,-3.8l-0.6,-3.2h-5.8z" fill="#c4826c"/>
<path d="M31.2,940.2l3.8,2.6l-2.2,2.2z M38.9,940l-3.7,2.8l2.4,2.2z" fill="#3f3c40"/>
<ellipse cx="35" cy="930.6" rx="5.5" ry="7.2" fill="#e3ab96"/>
<path d="M29.5,929.4c-0.3,-4.6 2,-7.2 5.5,-7.2c3.5,0 5.8,2.6 5.5,7.2c-0.7,-2.6 -2.5,-4.2 -5.5,-4.2c-3,0 -4.8,1.6 -5.5,4.2z" fill="#8a5a44"/>
<path d="M29.6,931.6c0.3,5 2.6,8.2 5.4,8.2c2.8,0 5.1,-3.2 5.4,-8.2c-0.9,2.6 -2.2,3.4 -3.2,3.2c-1.4,-0.5 -3,-0.5 -4.4,0c-1,0.2 -2.3,-0.6 -3.2,-3.2z" fill="#9a5438"/>
<path d="M30,930.4h10" stroke="#43322d" stroke-width="0.8" fill="none"/>
<rect x="30.6" y="929.6" width="3.6" height="2.3" rx="0.9" fill="none" stroke="#43322d" stroke-width="0.6"/>
<rect x="35.8" y="929.6" width="3.6" height="2.3" rx="0.9" fill="none" stroke="#43322d" stroke-width="0.6"/>
</g>
</g>
<!-- grid icon -->
<g fill="#364141">
<rect x="930" y="28" width="8" height="6.6" rx="0.7"/><rect x="940" y="28" width="8" height="6.6" rx="0.7"/>
<rect x="930" y="36.3" width="8" height="6.7" rx="0.7"/><rect x="940" y="36.3" width="8" height="6.7" rx="0.7"/>
</g>
<!-- list icon white -->
<g fill="#fff">
<circle cx="975" cy="30" r="1.9"/><rect x="977.6" y="28.5" width="14" height="3" rx="1.2"/>
<circle cx="975" cy="35.6" r="1.9"/><rect x="977.6" y="34.1" width="14" height="3" rx="1.2"/>
<circle cx="975" cy="41.2" r="1.9"/><rect x="977.6" y="39.7" width="14" height="3" rx="1.2"/>
</g>
<!-- calendar -->
<g fill="#364141">
<rect x="1033.5" y="28.8" width="15.3" height="15.8" rx="1.8"/>
<rect x="1036.7" y="26.6" width="1.7" height="3.4" rx="0.6"/><rect x="1043.9" y="26.6" width="1.7" height="3.4" rx="0.6"/>
</g>
<g fill="#e6e9e9">
<rect x="1033.5" y="32.6" width="15.3" height="0.8" opacity="0.55"/>
<rect x="1042" y="35.4" width="5.4" height="1.3" opacity="0.9"/>
<rect x="1035" y="37.9" width="12.4" height="0.9" opacity="0.6"/>
<rect x="1035" y="39.9" width="4.8" height="1.3" opacity="0.95"/>
</g>
<!-- dots -->
<g fill="#364141"><circle cx="1253.3" cy="35.2" r="2.3"/><circle cx="1260" cy="35.2" r="2.3"/><circle cx="1266.6" cy="35.2" r="2.3"/></g>
<!-- share -->
<g stroke="#364141" stroke-width="1.5" fill="none" stroke-linecap="round" stroke-linejoin="round">
<path d="M1314.6,34.6h-2.4a1.4,1.4 0 0 0 -1.4,1.4v7a1.4,1.4 0 0 0 1.4,1.4h10.6a1.4,1.4 0 0 0 1.4,-1.4v-7a1.4,1.4 0 0 0 -1.4,-1.4h-2.4"/>
<path d="M1317.5,40.4v-12.6M1313.6,31.6l3.9,-3.9l3.9,3.9"/>
</g>
<!-- sliders -->
<g stroke="#fff" stroke-width="1.9" fill="none" stroke-linecap="round">
<path d="M1422.8,30.3h7M1436.6,30.3h3"/><circle cx="1433.1" cy="30.3" r="2.9"/>
<path d="M1422.8,40.4h3.2M1433,40.4h6.6"/><circle cx="1429.4" cy="40.4" r="2.9"/>
</g>
<!-- compose -->
<g stroke="#fff" fill="none" stroke-linecap="round" stroke-linejoin="round">
<path d="M1563.4,29.7h-5.2a1.8,1.8 0 0 0 -1.8,1.8v9.8a1.8,1.8 0 0 0 1.8,1.8h10a1.8,1.8 0 0 0 1.8,-1.8v-5.4" stroke-width="2"/>
</g>
<path d="M1560.4,39.8l0.6,-3.2l8.6,-8.6l2.6,2.6l-8.6,8.6z" fill="#fff"/>
<path d="M1570.5,27.1l1,-1a1,1 0 0 1 1.4,0l1.2,1.2a1,1 0 0 1 0,1.4l-1,1z" fill="#fff"/>
<!-- bell -->
<path d="M1564.5,88.8c0.7,0 1.2,0.5 1.2,1.1v0.5c2.6,0.6 4.2,2.8 4.2,5.4c0,3.2 0.8,4.6 1.9,5.7c0.5,0.5 0.5,1.5 -0.6,1.5h-13.4c-1.1,0 -1.1,-1 -0.6,-1.5c1.1,-1.1 1.9,-2.5 1.9,-5.7c0,-2.6 1.6,-4.8 4.2,-5.4v-0.5c0,-0.6 0.5,-1.1 1.2,-1.1z" fill="#364141"/>
<path d="M1562.3,104.3h4.4a2.2,2.2 0 0 1 -4.4,0z" fill="#364141"/>
<circle cx="1574.4" cy="87.7" r="4.6" fill="#2079c3"/>
<!-- message bolt -->
<path d="M1561.6,141h5.4c3.6,0 6.5,2.9 6.5,6.5c0,4.6 -3.6,8.4 -8.2,8.4h-5l-4.8,4.2v-13c0,-3.4 2.7,-6.1 6.1,-6.1z" fill="#364141"/>
<path d="M1565.6,144.2l-4.2,4.9h3l-1,3.6l4.4,-4.9h-3.1z" fill="#fff"/>
<circle cx="1574.4" cy="141.2" r="4.6" fill="#2079c3"/>
<!-- help -->
<circle cx="1564.5" cy="204.3" r="9" fill="#364141"/>
<text x="1564.5" y="209.6" text-anchor="middle" font-family="Liberation Sans, sans-serif" font-weight="700" font-size="14.5" fill="#fff">?</text>
<!-- twitter / instagram -->
<path fill="#1da1f2" transform="translate(345.2,104.7) scale(0.52)" d="M23.953 4.57a10 10 0 01-2.825.775 4.958 4.958 0 002.163-2.723c-.951.555-2.005.959-3.127 1.184a4.92 4.92 0 00-8.384 4.482C7.69 8.095 4.067 6.13 1.64 3.162a4.822 4.822 0 00-.666 2.475c0 1.71.87 3.213 2.188 4.096a4.904 4.904 0 01-2.228-.616v.06a4.923 4.923 0 003.946 4.827 4.996 4.996 0 01-2.212.085 4.936 4.936 0 004.604 3.417 9.867 9.867 0 01-6.102 2.105c-.39 0-.779-.023-1.17-.067a13.995 13.995 0 007.557 2.209c9.053 0 13.998-7.496 13.998-13.985 0-.21 0-.42-.015-.63A9.935 9.935 0 0024 4.59z"/>
<path fill="#1da1f2" transform="translate(622.7,104.7) scale(0.52)" d="M23.953 4.57a10 10 0 01-2.825.775 4.958 4.958 0 002.163-2.723c-.951.555-2.005.959-3.127 1.184a4.92 4.92 0 00-8.384 4.482C7.69 8.095 4.067 6.13 1.64 3.162a4.822 4.822 0 00-.666 2.475c0 1.71.87 3.213 2.188 4.096a4.904 4.904 0 01-2.228-.616v.06a4.923 4.923 0 003.946 4.827 4.996 4.996 0 01-2.212.085 4.936 4.936 0 004.604 3.417 9.867 9.867 0 01-6.102 2.105c-.39 0-.779-.023-1.17-.067a13.995 13.995 0 007.557 2.209c9.053 0 13.998-7.496 13.998-13.985 0-.21 0-.42-.015-.63A9.935 9.935 0 0024 4.59z"/>
<g stroke="#e4405f" fill="none" stroke-width="1.1"><rect x="384.6" y="105.6" width="10.8" height="10.8" rx="3"/><circle cx="390" cy="111" r="2.6"/><circle cx="393.1" cy="107.9" r="0.5" fill="#e4405f" stroke="none"/></g>
<g stroke="#e4405f" fill="none" stroke-width="1.1"><rect x="662.4" y="105.6" width="10.8" height="10.8" rx="3"/><circle cx="667.8" cy="111" r="2.6"/><circle cx="670.9" cy="107.9" r="0.5" fill="#e4405f" stroke="none"/></g>
<!-- check circle -->
<circle cx="1184.4" cy="111" r="5.95" fill="#273333"/>
<path d="M1181.5,111.2l2,2l3.8,-3.9" stroke="#fff" stroke-width="1.5" fill="none" stroke-linecap="round" stroke-linejoin="round"/>
</svg>

</div></body></html>
